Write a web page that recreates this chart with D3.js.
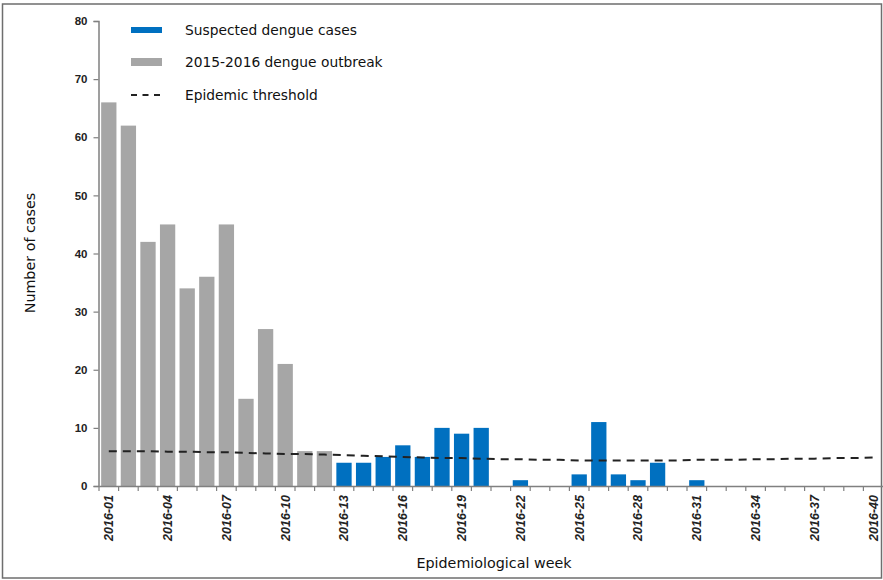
<!DOCTYPE html>
<html><head><meta charset="utf-8">
<script src="https://cdn.jsdelivr.net/npm/d3@7"></script>
<style>body{margin:0;background:#fff}svg{display:block}</style>
</head><body>
<svg id="c" width="883" height="580"></svg>
<script>
const weeks = d3.range(1, 41).map(w => "2016-" + String(w).padStart(2, "0"));
const outbreakWeeks = weeks.slice(0, 12);
const outbreakValues = [66, 62, 42, 45, 34, 36, 45, 15, 27, 21, 6, 6];
const suspectedWeeks = weeks.slice(12);
const suspectedValues = [4, 4, 5, 7, 5, 10, 9, 10, 0, 1, 0, 0, 2, 11, 2, 1, 4, 0, 1, 0, 0, 0, 0, 0, 0, 0, 0, 0];
const thresholdValues = [6.0, 6.0, 6.0, 5.9, 5.9, 5.8, 5.8, 5.7, 5.6, 5.5, 5.5, 5.4, 5.3, 5.2, 5.1, 5.0, 4.9, 4.8, 4.8, 4.7,
  4.6, 4.6, 4.5, 4.5, 4.4, 4.4, 4.4, 4.4, 4.4, 4.4, 4.5, 4.5, 4.5, 4.6, 4.6, 4.7, 4.7, 4.8, 4.8, 4.9];
const xTickLabels = ["2016-01","2016-04","2016-07","2016-10","2016-13","2016-16","2016-19","2016-22","2016-25","2016-28","2016-31","2016-34","2016-37","2016-40"];
const yTicks = [0, 10, 20, 30, 40, 50, 60, 70, 80];
const legendItems = ["Suspected dengue cases", "2015-2016 dengue outbreak", "Epidemic threshold"];

const svg = d3.select("#c");
const mLeft = 99, mRight = 883, mTop = 21, mBottom = 486;
const x = d3.scaleBand().domain(weeks).range([mLeft, mRight]).paddingInner(0.22).paddingOuter(0.11);
const xb = d3.scaleBand().domain(weeks).range([mLeft, mRight]);
const y = d3.scaleLinear().domain([0, 80]).range([mBottom, mTop]);
const grey = "#a6a6a6", blue = "#0070c0";

// frame
svg.append("rect").attr("x", 2.5).attr("y", 4).attr("width", 879).attr("height", 574)
  .attr("fill", "none").attr("stroke", "#6e6e6e").attr("stroke-width", 1.5);

// bars
svg.append("g").selectAll("rect").data(outbreakWeeks.map((w, i) => [w, outbreakValues[i]])).join("rect")
  .attr("x", d => x(d[0])).attr("width", x.bandwidth())
  .attr("y", d => y(d[1])).attr("height", d => y(0) - y(d[1])).attr("fill", grey);
svg.append("g").selectAll("rect").data(suspectedWeeks.map((w, i) => [w, suspectedValues[i]])).join("rect")
  .attr("x", d => x(d[0])).attr("width", x.bandwidth())
  .attr("y", d => y(d[1])).attr("height", d => y(0) - y(d[1])).attr("fill", blue);

// threshold
const line = d3.line().x((d, i) => xb(weeks[i]) + xb.bandwidth() / 2).y(d => y(d));
svg.append("path").datum(thresholdValues).attr("d", line).attr("fill", "none")
  .attr("stroke", "#222").attr("stroke-width", 2).attr("stroke-dasharray", "8,6");

// y axis
const ya = svg.append("g").attr("transform", `translate(${mLeft - 0.5},0)`)
  .call(d3.axisLeft(y).tickValues(yTicks).tickSize(5).tickPadding(6));
ya.select(".domain").attr("stroke", "#808080").attr("stroke-width", 1.5);
ya.selectAll(".tick line").attr("stroke", "#808080").attr("stroke-width", 1.2);
ya.selectAll("text").attr("font-family", "Liberation Sans, Arial, sans-serif").attr("font-weight", "bold")
  .attr("font-size", 11.5).attr("fill", "#222");

// x axis
const xa = svg.append("g").attr("transform", `translate(0,${mBottom})`)
  .call(d3.axisBottom(xb).tickValues(xTickLabels).tickSize(0).tickPadding(0));
xa.select(".domain").attr("stroke", "#808080").attr("stroke-width", 1.5);
xa.selectAll(".tick line").remove();
xa.selectAll("text").attr("font-family", "Liberation Sans, Arial, sans-serif").attr("font-weight", "bold")
  .attr("font-style", "italic").attr("font-size", 12.5).attr("fill", "#222")
  .attr("transform", "rotate(-90)").attr("text-anchor", "end").attr("x", -9).attr("y", 0).attr("dy", "0.35em");
// boundary tick marks
svg.append("g").selectAll("line").data(weeks).join("line")
  .attr("x1", d => xb(d)).attr("x2", d => xb(d)).attr("y1", mBottom).attr("y2", mBottom + 5)
  .attr("stroke", "#808080").attr("stroke-width", 1.2);

// axis titles
svg.append("text").attr("x", 494).attr("y", 568).attr("text-anchor", "middle")
  .attr("font-family", "DejaVu Sans, Verdana, sans-serif").attr("font-size", 14.3).attr("fill", "#111")
  .text("Epidemiological week");
svg.append("text").attr("transform", "translate(35,253) rotate(-90)").attr("text-anchor", "middle")
  .attr("font-family", "DejaVu Sans, Verdana, sans-serif").attr("font-size", 14.3).attr("fill", "#111")
  .text("Number of cases");

// legend
const lg = svg.append("g").attr("font-family", "DejaVu Sans, Verdana, sans-serif").attr("font-size", 13.8).attr("fill", "#111");
const ly = [30, 62, 95];
lg.append("rect").attr("x", 131).attr("y", ly[0] - 3).attr("width", 31).attr("height", 6).attr("fill", blue);
lg.append("rect").attr("x", 131).attr("y", ly[1] - 4).attr("width", 31).attr("height", 8).attr("fill", grey);
lg.append("line").attr("x1", 131).attr("x2", 162).attr("y1", ly[2]).attr("y2", ly[2])
  .attr("stroke", "#222").attr("stroke-width", 2).attr("stroke-dasharray", "6,5.5");
lg.selectAll("text").data(legendItems).join("text").attr("x", 185).attr("y", (d, i) => ly[i]).attr("dy", "0.35em").text(d => d);
</script>
</body></html>
